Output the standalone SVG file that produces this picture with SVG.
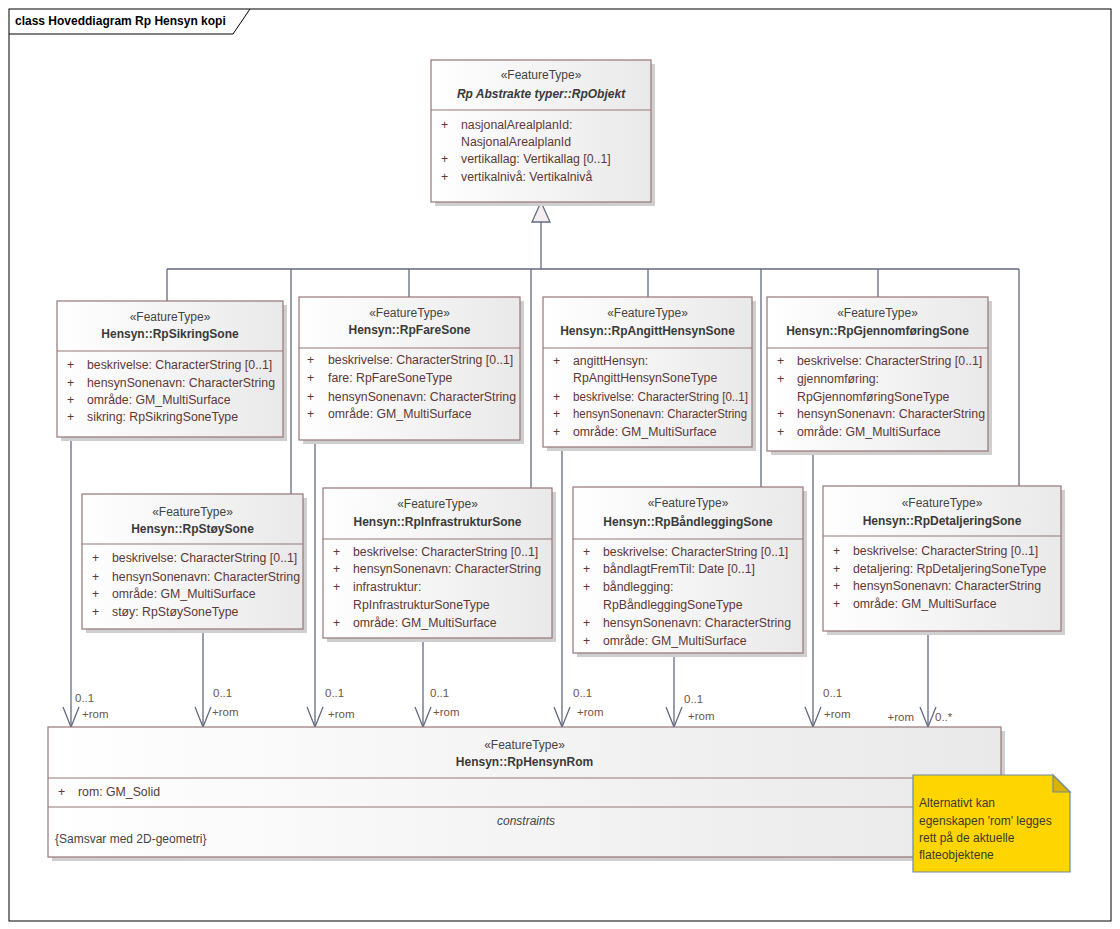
<svg xmlns="http://www.w3.org/2000/svg" width="1120" height="929" viewBox="0 0 1120 929">
<style>
text{font-family:"Liberation Sans",Arial,sans-serif}
.box{fill:url(#g);stroke:#967676;stroke-width:1.2}
.sh{fill:#cfcfcf}
.sep{stroke:#967676;stroke-width:1.2}
.st{font-size:12px;fill:#444;text-anchor:middle}
.nm{font-size:12px;font-weight:bold;fill:#3a3a3a;text-anchor:middle}
.at{font-size:12.3px;fill:#5e3838}
.ln{fill:none;stroke:#636b82;stroke-width:1.3}
.lb{font-size:11.5px;fill:#6e5548}
</style>
<defs>
<linearGradient id="g" x1="0" y1="0" x2="1" y2="0"><stop offset="0" stop-color="#ffffff"/><stop offset="1" stop-color="#e9e9e9"/></linearGradient>
<marker id="arr" markerWidth="24" markerHeight="20" refX="21" refY="10" orient="auto" markerUnits="userSpaceOnUse" viewBox="0 0 24 20"><path d="M1,2 L21,10 L1,18" fill="none" stroke="#636b82" stroke-width="1.3"/></marker>
</defs>
<rect x="0" y="0" width="1120" height="929" fill="#ffffff"/>
<g id="frame">
<rect x="9" y="9" width="1102" height="912" fill="none" stroke="#000" stroke-width="1"/>
<path d="M9,34 L233,34 L250,9" fill="none" stroke="#000" stroke-width="1"/>
<text x="15" y="25" style="font-size:12px;font-weight:bold;fill:#000">class Hoveddiagram Rp Hensyn kopi</text>
</g>
<g id="connectors">
<path class="ln" d="M541,222 L541,269 M167,269 L1019,269 M167,269 L167,301 M291,269 L291,494 M409,269 L409,297 M531,269 L531,488 M648,269 L648,297 M761,269 L761,487 M878,269 L878,297 M1019,269 L1019,486"/>
<polygon points="541,202 532,222 550,222" fill="#f4eeee" stroke="#636b82" stroke-width="1.3"/>
<path class="ln" d="M71,437 L71,727" marker-end="url(#arr)"/>
<path class="ln" d="M203,629 L203,727" marker-end="url(#arr)"/>
<path class="ln" d="M315,440 L315,727" marker-end="url(#arr)"/>
<path class="ln" d="M423,638 L423,727" marker-end="url(#arr)"/>
<path class="ln" d="M562,447 L562,727" marker-end="url(#arr)"/>
<path class="ln" d="M674,653 L674,727" marker-end="url(#arr)"/>
<path class="ln" d="M813,451 L813,727" marker-end="url(#arr)"/>
<path class="ln" d="M928,631 L928,727" marker-end="url(#arr)"/>
<text class="lb" x="75" y="702">0..1</text><text class="lb" x="82" y="718">+rom</text>
<text class="lb" x="213" y="697">0..1</text><text class="lb" x="212" y="716">+rom</text>
<text class="lb" x="325" y="697">0..1</text><text class="lb" x="328" y="718">+rom</text>
<text class="lb" x="430" y="697">0..1</text><text class="lb" x="433" y="716">+rom</text>
<text class="lb" x="573" y="697">0..1</text><text class="lb" x="577" y="716">+rom</text>
<text class="lb" x="684" y="703">0..1</text><text class="lb" x="688" y="720">+rom</text>
<text class="lb" x="823" y="697">0..1</text><text class="lb" x="824" y="718">+rom</text>
<text class="lb" x="914" y="721" text-anchor="end">+rom</text><text class="lb" x="935" y="721">0..*</text>
</g>
<g id="RpObjekt">
<rect class="sh" x="435" y="64" width="220" height="142"/>
<rect class="box" x="431" y="60" width="220" height="142"/>
<line class="sep" x1="431" y1="110" x2="651" y2="110"/>
<text class="st" x="541" y="79">«FeatureType»</text>
<text class="nm" x="541" y="98" font-style="italic">Rp Abstrakte typer::RpObjekt</text>
<text class="at" x="441" y="129">+</text><text class="at" x="461" y="129">nasjonalArealplanId:</text>
<text class="at" x="461" y="146">NasjonalArealplanId</text>
<text class="at" x="441" y="163">+</text><text class="at" x="461" y="163">vertikallag: Vertikallag [0..1]</text>
<text class="at" x="441" y="181">+</text><text class="at" x="461" y="181">vertikalnivå: Vertikalnivå</text>
</g>
<g id="RpSikringSone">
<rect class="sh" x="61" y="305" width="226" height="136"/>
<rect class="box" x="57" y="301" width="226" height="136"/>
<line class="sep" x1="57" y1="351" x2="283" y2="351"/>
<text class="st" x="170" y="321">«FeatureType»</text>
<text class="nm" x="170" y="338">Hensyn::RpSikringSone</text>
<text class="at" x="67" y="369">+</text><text class="at" x="87" y="369">beskrivelse: CharacterString [0..1]</text>
<text class="at" x="67" y="387">+</text><text class="at" x="87" y="387">hensynSonenavn: CharacterString</text>
<text class="at" x="67" y="404">+</text><text class="at" x="87" y="404">område: GM_MultiSurface</text>
<text class="at" x="67" y="421">+</text><text class="at" x="87" y="421">sikring: RpSikringSoneType</text>
</g>
<g id="RpFareSone">
<rect class="sh" x="303" y="301" width="221" height="143"/>
<rect class="box" x="299" y="297" width="221" height="143"/>
<line class="sep" x1="299" y1="348" x2="520" y2="348"/>
<text class="st" x="409.5" y="317">«FeatureType»</text>
<text class="nm" x="409.5" y="334">Hensyn::RpFareSone</text>
<text class="at" x="307" y="364">+</text><text class="at" x="328" y="364">beskrivelse: CharacterString [0..1]</text>
<text class="at" x="307" y="382">+</text><text class="at" x="328" y="382">fare: RpFareSoneType</text>
<text class="at" x="307" y="401">+</text><text class="at" x="328" y="401">hensynSonenavn: CharacterString</text>
<text class="at" x="307" y="418">+</text><text class="at" x="328" y="418">område: GM_MultiSurface</text>
</g>
<g id="RpAngittHensynSone">
<rect class="sh" x="547" y="301" width="209" height="150"/>
<rect class="box" x="543" y="297" width="209" height="150"/>
<line class="sep" x1="543" y1="348" x2="752" y2="348"/>
<text class="st" x="647.5" y="317">«FeatureType»</text>
<text class="nm" x="647.5" y="335">Hensyn::RpAngittHensynSone</text>
<text class="at" x="553" y="365">+</text><text class="at" x="573" y="365">angittHensyn:</text>
<text class="at" x="573" y="382">RpAngittHensynSoneType</text>
<text class="at" x="553" y="401">+</text><text class="at" x="573" y="401" textLength="175" lengthAdjust="spacingAndGlyphs">beskrivelse: CharacterString [0..1]</text>
<text class="at" x="553" y="418">+</text><text class="at" x="573" y="418" textLength="174" lengthAdjust="spacingAndGlyphs">hensynSonenavn: CharacterString</text>
<text class="at" x="553" y="436">+</text><text class="at" x="573" y="436">område: GM_MultiSurface</text>
</g>
<g id="RpGjennomforingSone">
<rect class="sh" x="771" y="301" width="221" height="154"/>
<rect class="box" x="767" y="297" width="221" height="154"/>
<line class="sep" x1="767" y1="348" x2="988" y2="348"/>
<text class="st" x="877.5" y="317">«FeatureType»</text>
<text class="nm" x="877.5" y="335">Hensyn::RpGjennomføringSone</text>
<text class="at" x="777" y="365">+</text><text class="at" x="797" y="365">beskrivelse: CharacterString [0..1]</text>
<text class="at" x="777" y="383">+</text><text class="at" x="797" y="383">gjennomføring:</text>
<text class="at" x="797" y="401">RpGjennomføringSoneType</text>
<text class="at" x="777" y="418">+</text><text class="at" x="797" y="418">hensynSonenavn: CharacterString</text>
<text class="at" x="777" y="436">+</text><text class="at" x="797" y="436">område: GM_MultiSurface</text>
</g>
<g id="RpStoySone">
<rect class="sh" x="86" y="498" width="221" height="135"/>
<rect class="box" x="82" y="494" width="221" height="135"/>
<line class="sep" x1="82" y1="544" x2="303" y2="544"/>
<text class="st" x="192.5" y="516">«FeatureType»</text>
<text class="nm" x="192.5" y="533">Hensyn::RpStøySone</text>
<text class="at" x="92" y="562">+</text><text class="at" x="112" y="562">beskrivelse: CharacterString [0..1]</text>
<text class="at" x="92" y="581">+</text><text class="at" x="112" y="581">hensynSonenavn: CharacterString</text>
<text class="at" x="92" y="598">+</text><text class="at" x="112" y="598">område: GM_MultiSurface</text>
<text class="at" x="92" y="616">+</text><text class="at" x="112" y="616">støy: RpStøySoneType</text>
</g>
<g id="RpInfrastrukturSone">
<rect class="sh" x="327" y="492" width="229" height="150"/>
<rect class="box" x="323" y="488" width="229" height="150"/>
<line class="sep" x1="323" y1="539" x2="552" y2="539"/>
<text class="st" x="437.5" y="508">«FeatureType»</text>
<text class="nm" x="437.5" y="526">Hensyn::RpInfrastrukturSone</text>
<text class="at" x="333" y="556">+</text><text class="at" x="353" y="556">beskrivelse: CharacterString [0..1]</text>
<text class="at" x="333" y="573">+</text><text class="at" x="353" y="573">hensynSonenavn: CharacterString</text>
<text class="at" x="333" y="591">+</text><text class="at" x="353" y="591">infrastruktur:</text>
<text class="at" x="353" y="609">RpInfrastrukturSoneType</text>
<text class="at" x="333" y="627">+</text><text class="at" x="353" y="627">område: GM_MultiSurface</text>
</g>
<g id="RpBandleggingSone">
<rect class="sh" x="577" y="491" width="230" height="166"/>
<rect class="box" x="573" y="487" width="230" height="166"/>
<line class="sep" x1="573" y1="539" x2="803" y2="539"/>
<text class="st" x="688" y="507">«FeatureType»</text>
<text class="nm" x="688" y="526">Hensyn::RpBåndleggingSone</text>
<text class="at" x="583" y="556">+</text><text class="at" x="603" y="556">beskrivelse: CharacterString [0..1]</text>
<text class="at" x="583" y="573">+</text><text class="at" x="603" y="573">båndlagtFremTil: Date [0..1]</text>
<text class="at" x="583" y="591">+</text><text class="at" x="603" y="591">båndlegging:</text>
<text class="at" x="603" y="609">RpBåndleggingSoneType</text>
<text class="at" x="583" y="627">+</text><text class="at" x="603" y="627">hensynSonenavn: CharacterString</text>
<text class="at" x="583" y="645">+</text><text class="at" x="603" y="645">område: GM_MultiSurface</text>
</g>
<g id="RpDetaljeringSone">
<rect class="sh" x="827" y="490" width="238" height="145"/>
<rect class="box" x="823" y="486" width="238" height="145"/>
<line class="sep" x1="823" y1="536" x2="1061" y2="536"/>
<text class="st" x="942" y="507">«FeatureType»</text>
<text class="nm" x="942" y="525">Hensyn::RpDetaljeringSone</text>
<text class="at" x="833" y="555">+</text><text class="at" x="853" y="555">beskrivelse: CharacterString [0..1]</text>
<text class="at" x="833" y="573">+</text><text class="at" x="853" y="573">detaljering: RpDetaljeringSoneType</text>
<text class="at" x="833" y="590">+</text><text class="at" x="853" y="590">hensynSonenavn: CharacterString</text>
<text class="at" x="833" y="608">+</text><text class="at" x="853" y="608">område: GM_MultiSurface</text>
</g>
<g id="RpHensynRom">
<rect class="sh" x="52" y="731" width="953" height="130"/>
<rect class="box" x="48" y="727" width="953" height="130"/>
<line class="sep" x1="48" y1="778" x2="1001" y2="778"/>
<line class="sep" x1="48" y1="807" x2="1001" y2="807"/>
<text class="st" x="524.5" y="749">«FeatureType»</text>
<text class="nm" x="524.5" y="766">Hensyn::RpHensynRom</text>
<text class="at" x="58" y="796">+</text><text class="at" x="78" y="796">rom: GM_Solid</text>
<text class="st" x="526" y="825" font-style="italic">constraints</text>
<text x="55" y="843" style="font-size:12px;fill:#444">{Samsvar med 2D-geometri}</text>
</g>
<g id="note">
<path d="M913,775 L1053,775 L1070,792 L1070,872 L913,872 Z" fill="#ffd500" stroke="#6f88a6" stroke-width="1.2"/>
<path d="M1053,775 L1053,792 L1070,792 Z" fill="#d8b400" stroke="#6f88a6" stroke-width="1.2"/>
<text x="919" y="807" style="font-size:12px;fill:#3a3a2a">Alternativt kan</text>
<text x="919" y="825" style="font-size:12px;fill:#3a3a2a">egenskapen 'rom' legges</text>
<text x="919" y="842" style="font-size:12px;fill:#3a3a2a">rett på de aktuelle</text>
<text x="919" y="859" style="font-size:12px;fill:#3a3a2a">flateobjektene</text>
</g>
</svg>
